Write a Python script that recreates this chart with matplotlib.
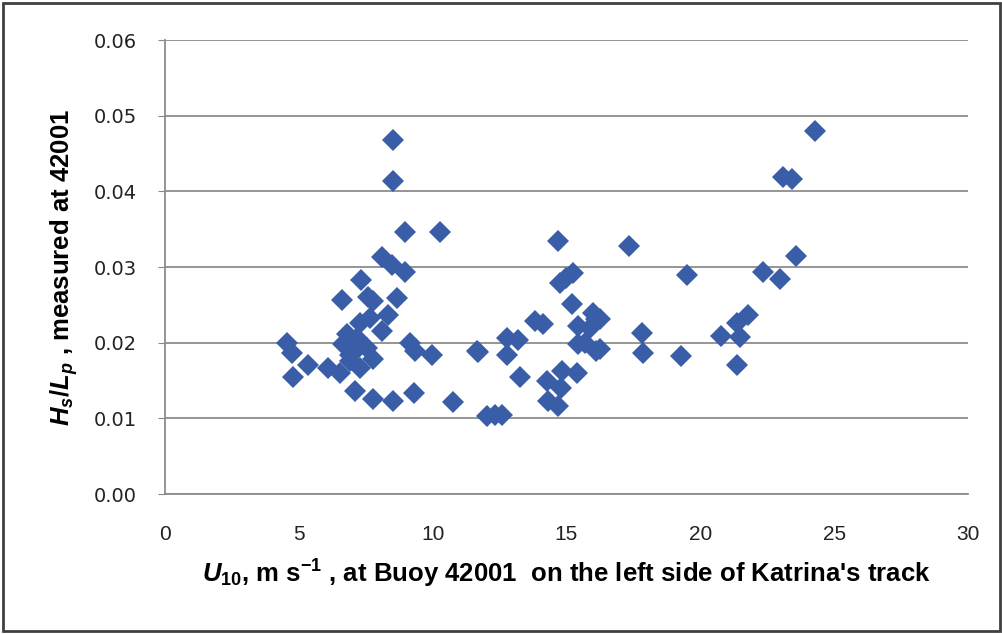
import numpy as np
import matplotlib
matplotlib.use('Agg')
import matplotlib.pyplot as plt
from matplotlib.patches import Rectangle

# wind speed (m/s) and wave steepness Hs/Lp
u10 = [8.51, 8.51, 8.97, 10.29, 8.09, 8.47, 8.97, 7.32, 7.60, 6.60,
       8.65, 7.78, 8.34, 7.28, 7.66, 8.09, 4.55, 4.73, 6.66, 7.10,
       7.53, 9.15, 9.34, 9.96, 11.64, 5.36, 4.79, 6.10, 6.54, 6.91,
       7.28, 7.78, 7.10, 7.78, 8.53, 9.30, 10.77, 6.79, 7.16, 6.91,
       14.67, 17.33, 15.23, 15.00, 14.76, 15.22, 13.82, 14.13, 16.00, 16.12,
       15.44, 15.87, 17.81, 17.87, 12.76, 13.20, 11.70, 12.76, 15.44, 15.69,
       16.12, 13.26, 14.26, 14.82, 15.38, 14.79, 14.32, 14.69, 12.02, 12.33,
       12.58, 24.28, 23.07, 23.44, 19.51, 22.33, 22.97, 23.57, 16.25, 19.27,
       20.76, 21.36, 21.79, 21.48, 21.38, 16.25]
steep = [0.0468, 0.0414, 0.0346, 0.0346, 0.0313, 0.0303, 0.0294, 0.0283, 0.0261, 0.0257,
         0.0259, 0.0255, 0.0237, 0.0226, 0.0233, 0.0215, 0.0200, 0.0187, 0.0198, 0.0189,
         0.0193, 0.0200, 0.0189, 0.0184, 0.0189, 0.0171, 0.0154, 0.0167, 0.0160, 0.0176,
         0.0167, 0.0178, 0.0136, 0.0125, 0.0123, 0.0134, 0.0121, 0.0211, 0.0206, 0.0184,
         0.0334, 0.0328, 0.0292, 0.0285, 0.0279, 0.0251, 0.0228, 0.0225, 0.0239, 0.0231,
         0.0222, 0.0219, 0.0213, 0.0187, 0.0206, 0.0204, 0.0188, 0.0184, 0.0198, 0.0200,
         0.0189, 0.0154, 0.0149, 0.0162, 0.0160, 0.0140, 0.0123, 0.0116, 0.0103, 0.0105,
         0.0105, 0.0480, 0.0419, 0.0416, 0.0289, 0.0294, 0.0284, 0.0314, 0.0231, 0.0182,
         0.0209, 0.0226, 0.0237, 0.0208, 0.0171, 0.0191]

xticks = [0, 5, 10, 15, 20, 25, 30]
yticks = [0.00, 0.01, 0.02, 0.03, 0.04, 0.05, 0.06]

plt.rcParams['mathtext.fontset'] = 'custom'
plt.rcParams['mathtext.it'] = 'Liberation Sans:italic:bold'
plt.rcParams['mathtext.rm'] = 'Liberation Sans:bold'
plt.rcParams['mathtext.bf'] = 'Liberation Sans:bold'

lab = ['Liberation Sans', 'DejaVu Sans']

fig = plt.figure(figsize=(10.03, 6.34), dpi=100)
fig.patches.append(Rectangle((0.003, 0.004), 0.994, 0.992, transform=fig.transFigure,
                             fill=False, edgecolor='#404040', linewidth=2))
ax = fig.add_axes([0.1645, 0.2208, 0.8006, 0.7161])

ax.plot(u10, steep, 'D', color='#3a5da8', markersize=11.5, markeredgewidth=0, zorder=3)

ax.set_xlim(0, 30)
ax.set_ylim(0, 0.06)
ax.set_yticks(yticks)
ax.set_yticklabels(['%.2f' % v for v in yticks], fontsize=14, color='#222222')
ax.set_xticks(xticks)
ax.set_xticklabels([str(v) for v in xticks], fontsize=15, family=lab, color='#222222')
ax.tick_params(axis='x', length=0, pad=22)
ax.tick_params(axis='y', length=5, color='#888888', pad=15)
ax.yaxis.grid(True, color='#8c8c8c', linewidth=1.3)
ax.set_axisbelow(True)
for s in ['top', 'right']:
    ax.spines[s].set_visible(False)
for s in ['left', 'bottom']:
    ax.spines[s].set_color('#8c8c8c')
    ax.spines[s].set_linewidth(1.3)

ax.set_xlabel(r"$U_{10}$, m s$^{\mathrm{-1}}$ , at Buoy 42001  on the left side of Katrina's track",
              fontsize=18.5, fontweight='bold', family=lab, labelpad=10)
ax.set_ylabel(r"$H_s/L_p$ , measured at 42001", fontsize=18.5, fontweight='bold',
              family=lab, labelpad=10)

fig.savefig('out.png', dpi=100)
